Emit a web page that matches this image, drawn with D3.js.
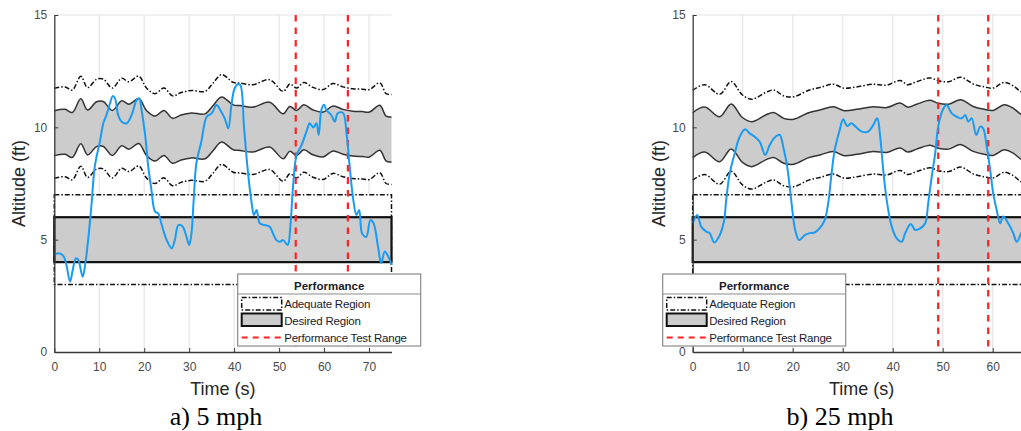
<!DOCTYPE html>
<html><head><meta charset="utf-8">
<script src="https://cdn.jsdelivr.net/npm/d3@7"></script>
<style>body{margin:0;background:#fff} svg{display:block}</style>
</head><body>
<svg id="c" width="1021" height="431"></svg>
<script>
// ---------- DATA ----------
const xTicksA = [0,10,20,30,40,50,60,70];
const xTicksB = [0,10,20,30,40,50,60];
const yTicks = [0,5,10,15];
const desiredHalf = 1, adequateHalf = 2;
const desiredBox = [4,6], adequateBox = [3,7];
const testRangeA = [53.7, 65.3];
const testRangeB = [49.1, 59.1];
const captions = ["a) 5 mph", "b) 25 mph"];
const legendTitle = "Performance";
const legendItems = ["Adequate Region", "Desired Region", "Performance Test Range"];

const bandTimeA   = [0,2.4,4.0,5.9,7.4,9.4,10.9,12.9,15.0,16.6,18.8,20.5,22.4,24.4,26.3,28.2,30.5,33.5,35.3,37.2,39.8,41.3,44.2,47.9,50.9,52.4,53.9,55.5,57.5,59.8,62.0,64.2,66.4,68.5,70.1,72.4,73.8,75];
const bandCenterA = [9.74,9.80,9.66,10.27,9.77,10.14,10.15,9.75,10.18,10.03,10.28,9.75,9.5,9.75,9.4,9.55,9.64,9.6,9.96,10.35,10.0,9.97,9.9,10.12,9.6,9.93,9.75,10.0,9.78,9.68,9.95,9.8,9.72,9.7,9.68,9.98,9.5,9.46];

const altTimeA = [0,0.9,2.0,2.7,3.5,4.1,4.8,5.3,6.3,6.8,7.6,8.3,9.0,10.2,10.9,11.6,12.4,13.0,13.5,14.2,15.0,16.1,17.2,18.3,18.9,19.4,20.2,20.9,21.6,22.4,23.1,23.9,25.0,26.1,26.8,27.6,28.5,29.4,30.0,30.5,31.0,31.6,32.7,33.9,35.0,36.1,36.9,37.9,38.7,39.4,40.1,40.9,41.4,42.2,43.1,43.9,44.4,45.0,45.7,46.8,47.9,48.7,49.4,50.2,50.9,51.9,52.5,53.1,53.9,55.0,56.2,56.8,57.6,58.3,58.8,59.4,60.0,60.5,61.6,62.4,63.0,64.2,65.0,65.7,66.5,67.2,67.8,68.5,69.4,70.3,71.0,72.0,72.7,73.5,74.2,75.0];
const altitudeA = [4.32,4.39,4.28,3.87,3.13,3.65,4.17,4.12,3.35,3.8,5.13,6.62,8.25,9.43,10.18,10.55,11.07,11.39,11.29,10.55,10.25,10.18,10.55,11.21,11.29,10.77,9.66,8.25,7.21,6.25,6.17,5.65,4.98,4.61,4.98,5.65,5.6,5.13,4.76,5.25,6.76,8.4,9.36,10.47,10.62,10.99,10.77,10.4,9.95,11.0,11.73,11.93,11.88,9.99,7.95,6.62,6.1,6.32,5.73,5.65,5.58,5.25,4.98,4.91,4.98,4.76,5.58,7.36,8.77,9.21,9.88,10.18,9.99,10.18,9.66,10.77,11.0,10.77,10.55,10.25,10.62,10.65,9.73,8.25,6.77,6.1,6.32,5.25,5.13,5.87,5.73,4.69,3.95,4.47,4.28,3.87];

const bandTimeB   = [0,2.4,5.4,7.7,9.9,11.8,14.6,16.2,18.2,20.2,23.2,25.6,28.1,30.3,32.8,36.1,38.8,41.5,43.0,44.8,47.5,49.1,51.2,53.6,56.1,58.3,60.1,62.3,64.1,65.7,67.6];
const bandCenterB = [9.65,9.9,9.47,10.04,9.45,9.25,9.55,9.66,9.4,9.36,9.65,9.78,9.92,9.74,9.8,9.92,9.88,10.08,9.9,10.03,10.2,10.07,10.03,10.23,9.93,9.8,9.75,10.0,9.85,9.58,9.5];

const altTimeB = [0,0.9,1.7,2.7,3.4,4.3,5.1,5.7,6.3,6.7,7.4,8.4,9.4,10.5,11.4,12.4,13.4,14.5,15.4,16.4,17.4,18.1,18.9,19.7,20.5,21.3,22.4,23.4,24.4,25.4,26.4,27.1,27.7,28.4,29.4,30.1,30.9,31.7,32.5,33.8,35.1,36.1,36.9,37.5,38.1,38.8,39.8,40.8,41.8,42.5,43.6,44.5,45.5,46.5,47.1,47.8,48.5,49.1,50.0,50.8,51.8,52.8,53.8,54.5,55.1,55.8,56.7,57.5,58.1,58.8,59.5,60.1,60.8,61.5,62.1,63.1,64.1,64.8,65.7,66.5,67.5];
const altitudeB = [5.73,6.1,5.58,5.36,5.29,4.87,5.07,5.36,5.87,6.76,7.95,8.84,9.58,9.91,9.73,9.58,9.36,8.77,9.21,9.55,9.66,9.14,8.25,6.76,5.43,4.98,5.2,5.29,5.32,5.51,5.87,6.62,7.8,8.99,9.88,10.36,10.06,10.18,10.05,9.81,9.81,10.1,10.4,9.58,8.1,6.76,5.58,5.06,4.91,5.29,5.7,5.43,5.5,5.73,6.62,7.8,8.84,10.03,10.77,10.99,10.62,10.47,10.4,10.55,10.25,10.4,9.66,10.03,9.95,9.14,8.1,7.06,6.32,5.73,6.03,5.73,5.29,4.91,5.29,5.7,6.0];

// ---------- DRAW ----------
const svg = d3.select("#c");
const SANS = "'Liberation Sans', Arial, sans-serif";
const SERIF = "'Liberation Serif', 'Times New Roman', serif";
const DASHDOT = "5,2,1.5,2";
const smooth = d3.curveCatmullRom.alpha(0.5);

function drawPanel(p) {
  const x = d3.scaleLinear(p.domainX, p.rangeX);
  const y = d3.scaleLinear([0, 15], [352, 15]);
  const g = svg.append("g");
  const band = p.bandTime.map((t, i) => ({t, c: p.bandCenter[i]}));
  const alt = p.altTime.map((t, i) => ({t, v: p.altitude[i]}));
  const [x0, x1] = p.rangeX;

  // grid
  g.selectAll(".grid").data(p.xTicks.filter(d => d > 0)).join("line")
    .attr("x1", d => x(d)).attr("x2", d => x(d)).attr("y1", y(15)).attr("y2", y(0))
    .attr("stroke", "#e6e6e6").attr("stroke-width", 1.2);
  g.append("line").attr("x1", x0).attr("x2", x1).attr("y1", y(15)).attr("y2", y(15))
    .attr("stroke", "#e3e3e3").attr("stroke-width", 1.2);

  // upper bands
  g.append("path").datum(band)
    .attr("d", d3.area().x(d => x(d.t)).y0(d => y(d.c - adequateHalf)).y1(d => y(d.c + adequateHalf)).curve(smooth))
    .attr("fill", "#fff");
  g.append("path").datum(band)
    .attr("d", d3.area().x(d => x(d.t)).y0(d => y(d.c - desiredHalf)).y1(d => y(d.c + desiredHalf)).curve(smooth))
    .attr("fill", "#cccccc");
  [desiredHalf, -desiredHalf].forEach(o => {
    g.append("path").datum(band)
      .attr("d", d3.line().x(d => x(d.t)).y(d => y(d.c + o)).curve(smooth))
      .attr("fill", "none").attr("stroke", "#333").attr("stroke-width", 1.5);
  });
  [adequateHalf, -adequateHalf].forEach(o => {
    g.append("path").datum(band)
      .attr("d", d3.line().x(d => x(d.t)).y(d => y(d.c + o)).curve(smooth))
      .attr("fill", "none").attr("stroke", "#111").attr("stroke-width", 1.5)
      .attr("stroke-dasharray", DASHDOT);
  });

  // lower boxes
  g.append("rect").attr("x", x(p.domainX[0])).attr("width", x(p.domainX[1]) - x(p.domainX[0]))
    .attr("y", y(adequateBox[1])).attr("height", y(adequateBox[0]) - y(adequateBox[1]))
    .attr("fill", "#fff").attr("stroke", "#111").attr("stroke-width", 1.5).attr("stroke-dasharray", DASHDOT);
  g.append("rect").attr("x", x(p.domainX[0])).attr("width", x(p.domainX[1]) - x(p.domainX[0]))
    .attr("y", y(desiredBox[1])).attr("height", y(desiredBox[0]) - y(desiredBox[1]))
    .attr("fill", "#cccccc").attr("stroke", "#111").attr("stroke-width", 2.2);

  // test range
  g.selectAll(".tr").data(p.testRange).join("line")
    .attr("x1", d => x(d)).attr("x2", d => x(d)).attr("y1", y(15)).attr("y2", y(0))
    .attr("stroke", "#ff2222").attr("stroke-width", 2.2).attr("stroke-dasharray", "6.5,6");

  // altitude
  g.append("path").datum(alt)
    .attr("d", d3.line().x(d => x(d.t)).y(d => y(d.v)).curve(smooth))
    .attr("fill", "none").attr("stroke", "#1a9bf2").attr("stroke-width", 2);

  // axes
  const ax = g.append("g").attr("transform", `translate(0,${y(0)})`)
    .call(d3.axisBottom(x).tickValues(p.xTicks).tickSizeInner(-4).tickSizeOuter(0).tickPadding(10));
  const ay = g.append("g").attr("transform", `translate(${x0},0)`)
    .call(d3.axisLeft(y).tickValues(yTicks).tickSizeInner(-4).tickSizeOuter(0).tickPadding(7));
  [ax, ay].forEach(a => {
    a.select(".domain").attr("stroke", "#3a3a3a").attr("stroke-width", 1.3);
    a.selectAll(".tick line").attr("stroke", "#3a3a3a");
    a.selectAll(".tick text").attr("fill", "#4a4a4a").style("font-family", SANS).style("font-size", "12px");
  });

  // labels
  g.append("text").attr("x", (x0 + p.labelRight) / 2).attr("y", 395)
    .attr("text-anchor", "middle").style("font-family", SANS).style("font-size", "18px")
    .attr("fill", "#262626").text("Time (s)");
  g.append("text").attr("transform", `translate(${p.yLabelX},${(y(0) + y(15)) / 2}) rotate(-90)`)
    .attr("text-anchor", "middle").style("font-family", SANS).style("font-size", "18px")
    .attr("fill", "#262626").text("Altitude (ft)");
  g.append("text").attr("x", p.captionX).attr("y", 425).attr("text-anchor", "middle")
    .style("font-family", SERIF).style("font-size", "26px").attr("fill", "#000").text(p.caption);

  // legend
  const L = g.append("g").attr("transform", `translate(${p.legendX},274)`);
  const W = 183, H = 72;
  L.append("rect").attr("width", W).attr("height", H).attr("fill", "#fff")
    .attr("stroke", "#8a8a8a").attr("stroke-width", 1.2);
  L.append("line").attr("x1", 0).attr("x2", W).attr("y1", 20).attr("y2", 20)
    .attr("stroke", "#8a8a8a").attr("stroke-width", 1);
  L.append("text").attr("x", W / 2).attr("y", 15.5).attr("text-anchor", "middle")
    .style("font-family", SANS).style("font-size", "11.5px").style("font-weight", "bold")
    .attr("fill", "#1a1a2a").text(legendTitle);
  L.append("rect").attr("x", 4).attr("y", 23.5).attr("width", 40).attr("height", 12.5)
    .attr("fill", "#fff").attr("stroke", "#111").attr("stroke-width", 1.5).attr("stroke-dasharray", DASHDOT);
  L.append("rect").attr("x", 4).attr("y", 39.5).attr("width", 40).attr("height", 12.5)
    .attr("fill", "#cccccc").attr("stroke", "#111").attr("stroke-width", 2);
  L.append("line").attr("x1", 4).attr("x2", 44).attr("y1", 63.5).attr("y2", 63.5)
    .attr("stroke", "#ff2222").attr("stroke-width", 2).attr("stroke-dasharray", "6,5");
  L.selectAll(".li").data(legendItems).join("text")
    .attr("x", 46.5).attr("y", (d, i) => 34 + i * 16.8)
    .style("font-family", SANS).style("font-size", "11.5px").attr("fill", "#1a1a2a")
    .attr("letter-spacing", "-0.2px").text(d => d);
}

drawPanel({
  domainX: [0, 75], rangeX: [54.3, 391.5], labelRight: 391.5, xTicks: xTicksA,
  bandTime: bandTimeA, bandCenter: bandCenterA, altTime: altTimeA, altitude: altitudeA,
  testRange: testRangeA, yLabelX: 25, caption: captions[0], captionX: 216, legendX: 237.7
});
drawPanel({
  domainX: [0, 67.6], rangeX: [692.7, 1030.7], labelRight: 1030.7, xTicks: xTicksB,
  bandTime: bandTimeB, bandCenter: bandCenterB, altTime: altTimeB, altitude: altitudeB,
  testRange: testRangeB, yLabelX: 665, caption: captions[1], captionX: 840, legendX: 662.7
});
</script>
</body></html>
